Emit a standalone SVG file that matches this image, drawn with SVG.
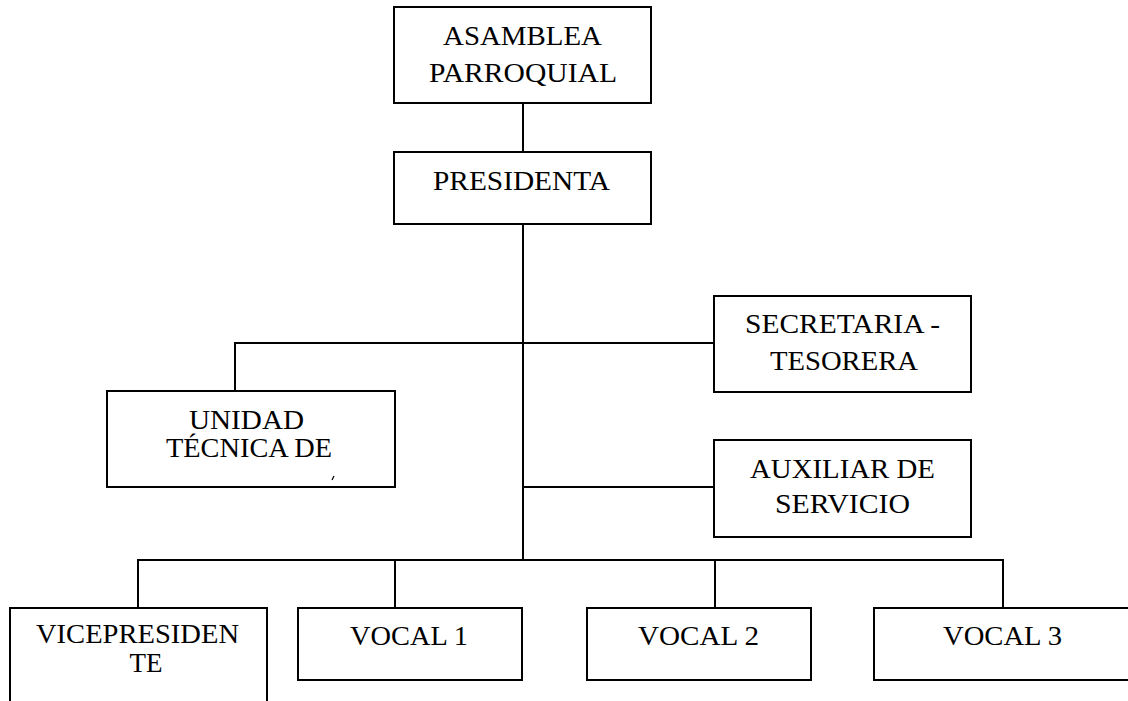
<svg xmlns="http://www.w3.org/2000/svg" width="1128" height="701" viewBox="0 0 1128 701">
<style>
.box{fill:#fff;stroke:#000;stroke-width:2}
.ln{fill:none;stroke:#000;stroke-width:2}
text{font-family:"Liberation Serif","Times New Roman",serif;font-size:27px;fill:#000;text-anchor:start}
</style>
<rect width="1128" height="701" fill="#fff"/>
<g id="connectors" class="ln">
<path d="M523 103V152"/>
<path d="M523 224V560"/>
<path d="M235 391V343H714"/>
<path d="M523 487H714"/>
<path d="M138 608V560H1003V608"/>
<path d="M395 560V608"/>
<path d="M715 560V608"/>
</g>
<g id="asamblea">
<rect class="box" x="394" y="7" width="257" height="96"/>
<text x="443" y="45" textLength="159" lengthAdjust="spacingAndGlyphs">ASAMBLEA</text>
<text x="429" y="82" textLength="188" lengthAdjust="spacingAndGlyphs">PARROQUIAL</text>
</g>
<g id="presidenta">
<rect class="box" x="394" y="152" width="257" height="72"/>
<text x="433" y="190" textLength="177" lengthAdjust="spacingAndGlyphs">PRESIDENTA</text>
</g>
<g id="secretaria">
<rect class="box" x="714" y="296" width="257" height="96"/>
<text x="745" y="333" textLength="195" lengthAdjust="spacingAndGlyphs">SECRETARIA -</text>
<text x="770" y="370" textLength="148" lengthAdjust="spacingAndGlyphs">TESORERA</text>
</g>
<g id="unidad">
<rect class="box" x="107" y="391" width="288" height="96"/>
<text x="189" y="429" textLength="115" lengthAdjust="spacingAndGlyphs">UNIDAD</text>
<text x="166" y="457" textLength="166" lengthAdjust="spacingAndGlyphs">TÉCNICA DE</text>
<path d="M332 480L334 476" stroke="#000" stroke-width="1.2" fill="none"/>
</g>
<g id="auxiliar">
<rect class="box" x="714" y="440" width="257" height="97"/>
<text x="750" y="478" textLength="185" lengthAdjust="spacingAndGlyphs">AUXILIAR DE</text>
<text x="775" y="513" textLength="135" lengthAdjust="spacingAndGlyphs">SERVICIO</text>
</g>
<g id="vicepresidente">
<rect class="box" x="10" y="608" width="257" height="110"/>
<text x="36" y="643" textLength="203" lengthAdjust="spacingAndGlyphs">VICEPRESIDEN</text>
<text x="146" y="672" style="text-anchor:middle">TE</text>
</g>
<g id="vocal1">
<rect class="box" x="298" y="608" width="224" height="72"/>
<text x="350" y="645" textLength="118" lengthAdjust="spacingAndGlyphs">VOCAL 1</text>
</g>
<g id="vocal2">
<rect class="box" x="587" y="608" width="224" height="72"/>
<text x="638" y="645" textLength="121" lengthAdjust="spacingAndGlyphs">VOCAL 2</text>
</g>
<g id="vocal3">
<rect class="box" x="874" y="608" width="270" height="72"/>
<text x="943" y="645" textLength="119" lengthAdjust="spacingAndGlyphs">VOCAL 3</text>
</g>
</svg>
